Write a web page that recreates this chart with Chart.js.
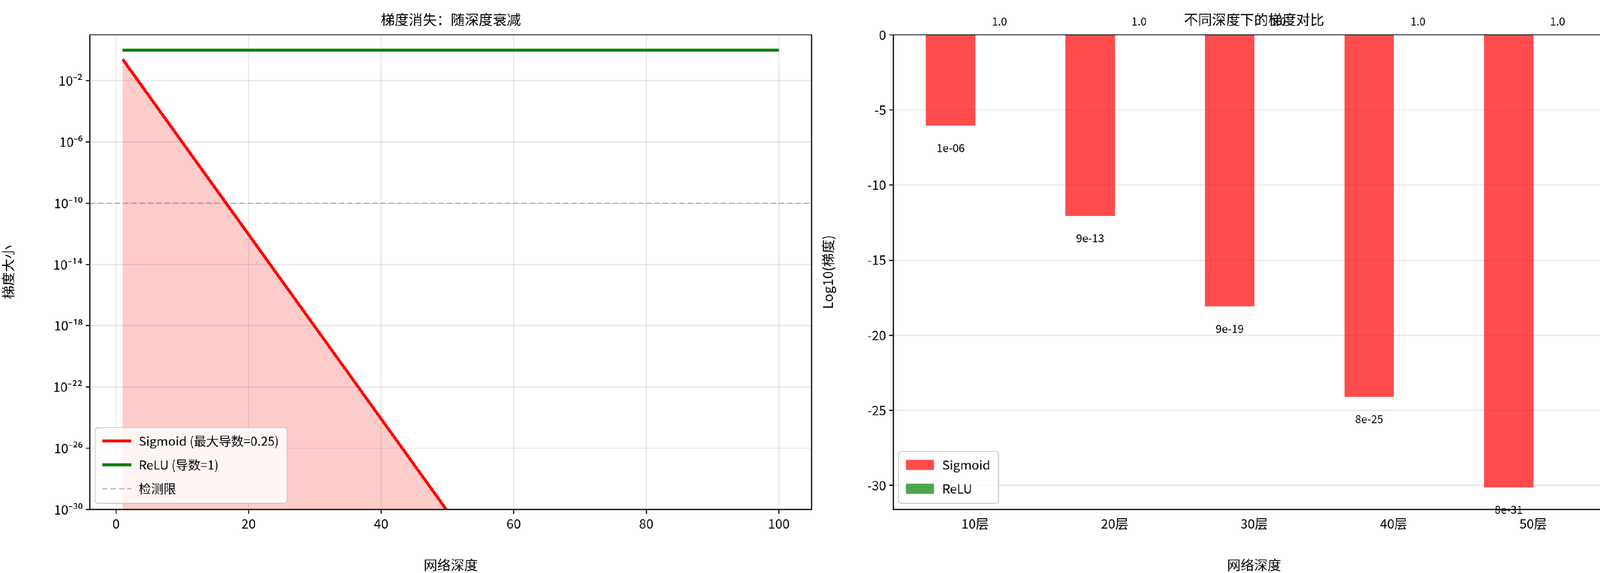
<!DOCTYPE html>
<html>
<head>
<meta charset="utf-8">
<script src="https://cdn.jsdelivr.net/npm/chart.js@4"></script>
<style>
  body { margin: 0; background: #fff; overflow: hidden; }
  #wrap { position: absolute; left: 0; top: 0; width: 1568px; height: 552px; transform: scale(2.6563); transform-origin: 0 0; }
  canvas { position: absolute; top: 0; }
</style>
</head>
<body>
<div id="wrap">
  <canvas id="left" width="790" height="552" style="left:0"></canvas>
  <canvas id="right" width="778" height="552" style="left:790px"></canvas>
</div>
<script>
// 左图数据：梯度随深度衰减
const depthX = [1, 10, 20, 30, 40, 50, 60, 70, 80, 90, 100];
const sigmoidGrad = [0.25, 9.5e-7, 9.1e-13, 8.7e-19, 8.3e-25, 7.9e-31, 7.5e-37, 7.2e-43, 6.8e-49, 6.5e-55, 6.2e-61];
const reluGrad = [1, 1, 1, 1, 1, 1, 1, 1, 1, 1, 1];
const detectLimit = 1e-10;
const leftYTicks = [-30, -26, -22, -18, -14, -10, -6, -2];
const leftXTicks = [0, 20, 40, 60, 80, 100];

// 右图数据：不同深度下的梯度对比
const layerLabels = ['10层', '20层', '30层', '40层', '50层'];
const sigmoidLog = [-6.02, -12.04, -18.06, -24.08, -30.1];
const reluLog = [0, 0, 0, 0, 0];
const sigmoidText = ['1e-06', '9e-13', '9e-19', '8e-25', '8e-31'];
const reluText = ['1.0', '1.0', '1.0', '1.0', '1.0'];
const rightYTicks = [0, -5, -10, -15, -20, -25, -30];

const FONT = "'Noto Sans CJK SC', 'Noto Sans', sans-serif";
const DPR = 2.6563;
const sup = {'-': '⁻', '0': '⁰', '1': '¹', '2': '²', '3': '³', '4': '⁴', '5': '⁵', '6': '⁶', '7': '⁷', '8': '⁸', '9': '⁹'};

function frame(title, legend) {
  return {
    id: 'frame',
    afterDraw(chart) {
      const c = chart.ctx, a = chart.chartArea;
      c.save();
      c.strokeStyle = '#000'; c.lineWidth = 1;
      c.strokeRect(a.left, a.top, a.right - a.left, a.bottom - a.top);
      c.fillStyle = '#000'; c.font = '13.5px ' + FONT;
      c.textAlign = 'center'; c.textBaseline = 'middle';
      c.fillText(title, (a.left + a.right) / 2, 19);
      // 图例
      const lx = a.left + 5, ly = a.bottom - 6 - legend.length * 23 - 4;
      c.font = '12px ' + FONT;
      let w = 0;
      legend.forEach(l => { w = Math.max(w, c.measureText(l.text).width); });
      c.fillStyle = 'rgba(255,255,255,0.8)'; c.strokeStyle = '#ccc';
      c.beginPath(); c.roundRect(lx, ly, w + 50, legend.length * 23 + 4, 3); c.fill(); c.stroke();
      legend.forEach((l, i) => {
        const y = ly + 13 + i * 23;
        if (l.patch) {
          c.fillStyle = l.color; c.fillRect(lx + 7, y - 5, 27, 10);
        } else {
          c.strokeStyle = l.color; c.lineWidth = l.width; c.setLineDash(l.dash || []);
          c.beginPath(); c.moveTo(lx + 7, y); c.lineTo(lx + 35, y); c.stroke(); c.setLineDash([]);
        }
        c.fillStyle = '#000'; c.textAlign = 'left';
        c.fillText(l.text, lx + 42, y);
      });
      c.restore();
    }
  };
}

new Chart(document.getElementById('left'), {
  type: 'line',
  data: {
    datasets: [
      { label: 'Sigmoid (最大导数=0.25)', data: depthX.map((x, i) => ({x, y: sigmoidGrad[i]})),
        borderColor: '#ff0000', borderWidth: 2.8, pointRadius: 0, fill: 'start', backgroundColor: 'rgba(255,0,0,0.2)' },
      { label: 'ReLU (导数=1)', data: depthX.map((x, i) => ({x, y: reluGrad[i]})),
        borderColor: '#008000', borderWidth: 2.8, pointRadius: 0, fill: false },
      { label: '检测限', data: [{x: -3.95, y: detectLimit}, {x: 104.95, y: detectLimit}],
        borderColor: 'rgba(128,128,128,0.5)', borderWidth: 1.3, borderDash: [5, 3], pointRadius: 0, fill: false }
    ]
  },
  options: {
    devicePixelRatio: DPR, responsive: false, animation: false,
    layout: { padding: { top: 33.5, right: 8, left: 0, bottom: 0 } },
    plugins: { legend: { display: false }, tooltip: { enabled: false } },
    scales: {
      x: {
        type: 'linear', min: -3.95, max: 104.95,
        afterBuildTicks: s => { s.ticks = leftXTicks.map(v => ({value: v})); },
        grid: { color: 'rgba(0,0,0,0.1)', tickColor: '#000', tickLength: 4 },
        ticks: { color: '#000', font: { family: FONT, size: 12.5 }, padding: 2 },
        title: { display: true, text: '网络深度', color: '#000', font: { family: FONT, size: 13 }, padding: 0 },
        afterFit: s => { s.height = 61; }
      },
      y: {
        type: 'logarithmic', min: 1e-30, max: 10,
        afterBuildTicks: s => { s.ticks = leftYTicks.map(e => ({value: Math.pow(10, e)})); },
        grid: { color: 'rgba(0,0,0,0.1)', tickColor: '#000', tickLength: 4 },
        ticks: { color: '#000', font: { family: FONT, size: 12.5 },
          callback: v => '10' + String(Math.round(Math.log10(v))).split('').map(ch => sup[ch]).join('') },
        title: { display: true, text: '梯度大小', color: '#000', font: { family: FONT, size: 13 }, padding: { top: 0, bottom: 6 } },
        afterFit: s => { s.width = 86.6; }
      }
    }
  },
  plugins: [frame('梯度消失：随深度衰减', [
    { text: 'Sigmoid (最大导数=0.25)', color: '#ff0000', width: 2.8 },
    { text: 'ReLU (导数=1)', color: '#008000', width: 2.8 },
    { text: '检测限', color: 'rgba(128,128,128,0.5)', width: 1.3, dash: [5, 3] }
  ])]
});

const barLabels = {
  id: 'barLabels',
  afterDraw(chart) {
    const c = chart.ctx, xs = chart.scales.x, ys = chart.scales.y;
    c.save();
    c.fillStyle = '#000'; c.font = '10.5px ' + FONT; c.textAlign = 'center'; c.textBaseline = 'middle';
    layerLabels.forEach((_, i) => {
      c.fillText(sigmoidText[i], xs.getPixelForValue(i - 0.175), ys.getPixelForValue(sigmoidLog[i] - 1.5));
      c.fillText(reluText[i], xs.getPixelForValue(i + 0.175), ys.getPixelForValue(reluLog[i] + 0.9));
    });
    c.restore();
  }
};

new Chart(document.getElementById('right'), {
  type: 'bar',
  data: {
    datasets: [
      { label: 'Sigmoid', data: sigmoidLog.map((y, i) => ({x: i - 0.175, y})), backgroundColor: 'rgba(255,0,0,0.7)',
        barPercentage: 1, categoryPercentage: 1, grouped: false },
      { label: 'ReLU', data: reluLog.map((y, i) => ({x: i + 0.175, y})), backgroundColor: 'rgba(0,128,0,0.7)',
        barPercentage: 1, categoryPercentage: 1, grouped: false }
    ]
  },
  options: {
    devicePixelRatio: DPR, responsive: false, animation: false,
    layout: { padding: { top: 33.5, right: 12, left: 0, bottom: 0 } },
    plugins: { legend: { display: false }, tooltip: { enabled: false } },
    scales: {
      x: {
        type: 'linear', min: -0.585, max: 4.585, offset: false,
        afterBuildTicks: s => { s.ticks = layerLabels.map((_, i) => ({value: i})); },
        grid: { display: false, tickColor: '#000', tickLength: 4 },
        ticks: { color: '#000', font: { family: FONT, size: 12.5 }, padding: 2, callback: v => layerLabels[v] },
        title: { display: true, text: '网络深度', color: '#000', font: { family: FONT, size: 13 }, padding: 0 },
        afterFit: s => { s.height = 61; }
      },
      y: {
        min: -31.6, max: 0,
        afterBuildTicks: s => { s.ticks = rightYTicks.map(v => ({value: v})); },
        grid: { color: 'rgba(0,0,0,0.1)', tickColor: '#000', tickLength: 4 },
        ticks: { color: '#000', font: { family: FONT, size: 12.5 } },
        title: { display: true, text: 'Log10(梯度)', color: '#000', font: { family: FONT, size: 13 }, padding: { top: 0, bottom: 4 } },
        afterFit: s => { s.width = 71; }
      }
    }
  },
  plugins: [barLabels, frame('不同深度下的梯度对比', [
    { text: 'Sigmoid', color: 'rgba(255,0,0,0.7)', patch: true },
    { text: 'ReLU', color: 'rgba(0,128,0,0.7)', patch: true }
  ])]
});
</script>
</body>
</html>
